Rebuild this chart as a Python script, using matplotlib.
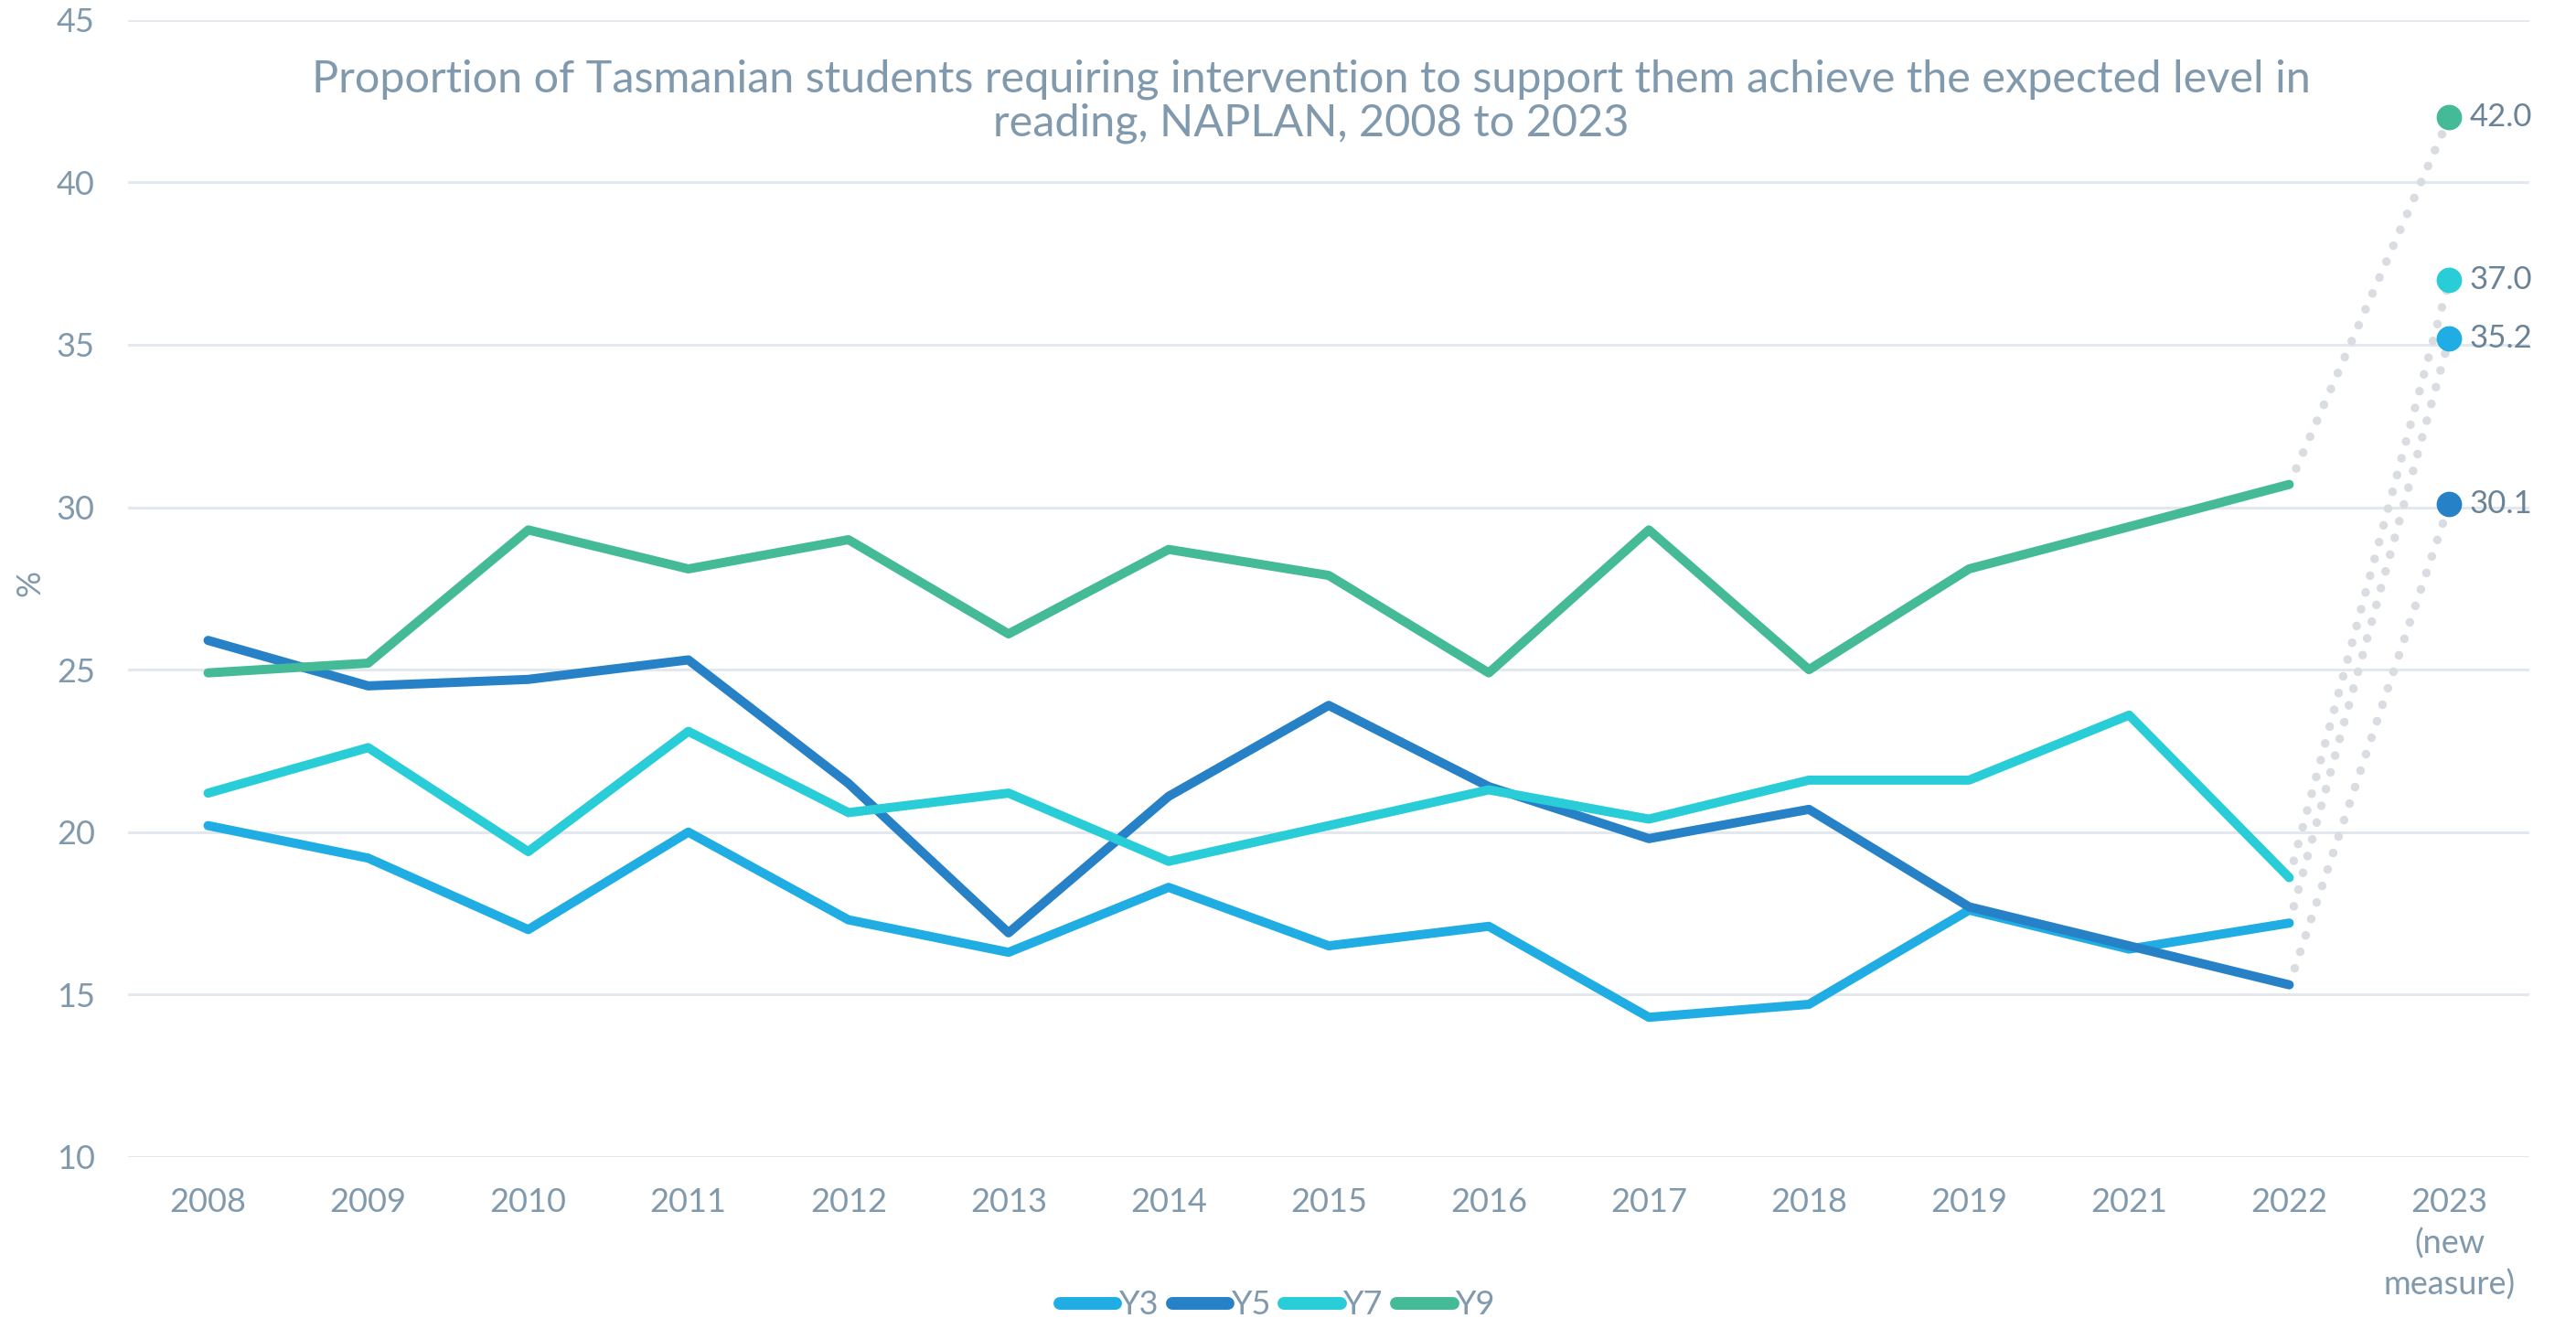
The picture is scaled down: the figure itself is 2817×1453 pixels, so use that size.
import numpy as np
import matplotlib.pyplot as plt

plt.rcParams['font.family'] = ['Lato', 'DejaVu Sans']

years = ['2008', '2009', '2010', '2011', '2012', '2013', '2014', '2015',
         '2016', '2017', '2018', '2019', '2021', '2022', '2023\n(new\nmeasure)']

# NAPLAN reading, % needing intervention (2008-2022, old measure)
y3 = [20.2, 19.2, 17.0, 20.0, 17.3, 16.3, 18.3, 16.5, 17.1, 14.3, 14.7, 17.6, 16.4, 17.2]
y5 = [25.9, 24.5, 24.7, 25.3, 21.5, 16.9, 21.1, 23.9, 21.4, 19.8, 20.7, 17.7, 16.5, 15.3]
y7 = [21.2, 22.6, 19.4, 23.1, 20.6, 21.2, 19.1, 20.2, 21.3, 20.4, 21.6, 21.6, 23.6, 18.6]
y9 = [24.9, 25.2, 29.3, 28.1, 29.0, 26.1, 28.7, 27.9, 24.9, 29.3, 25.0, 28.1, 29.4, 30.7]

# 2023 under the new measure
new_2023 = {'Y3': 35.2, 'Y5': 30.1, 'Y7': 37.0, 'Y9': 42.0}

series = {'Y3': y3, 'Y5': y5, 'Y7': y7, 'Y9': y9}
colours = {'Y3': '#1FADE4', 'Y5': '#2781C6', 'Y7': '#29CDD8', 'Y9': '#44BA96'}

text_col = '#8099AD'
label_col = '#6B8397'
grid_col = '#E3E8EE'

fig = plt.figure(figsize=(2817 / 200, 1453 / 200), dpi=200)
ax = fig.add_axes([0.0497, 0.1294, 0.9322, 0.8557])

x = np.arange(len(years))
last = len(y3) - 1

# dotted joins from 2022 to the new 2023 figure
for name, vals in series.items():
    ax.plot([x[last], x[last + 1]], [vals[-1], new_2023[name]],
            color='#D9DCE0', lw=3.4, linestyle=(0, (0.01, 2.0)),
            dash_capstyle='round', zorder=1)

for name, vals in series.items():
    ax.plot(x[:len(vals)], vals, color=colours[name], lw=3.6,
            solid_capstyle='round', solid_joinstyle='round', label=name, zorder=3)
    ax.plot(x[-1], new_2023[name], 'o', color=colours[name], ms=9, zorder=4)
    ax.annotate(f'{new_2023[name]:.1f}', (x[-1], new_2023[name]),
                xytext=(8, 0), textcoords='offset points', va='center',
                ha='left', fontsize=12.5, color=label_col)

ax.set_ylim(10, 45)
ax.set_xlim(-0.5, len(years) - 0.5)
ax.set_yticks(range(10, 46, 5))
ax.set_xticks(x)
ax.set_xticklabels(years, linespacing=1.4)
ax.tick_params(axis='both', length=0, labelsize=13, labelcolor=text_col)
ax.tick_params(axis='y', pad=13)
ax.tick_params(axis='x', pad=12)
ax.grid(axis='y', color=grid_col, lw=1.1)
ax.set_axisbelow(True)
for sp in ax.spines.values():
    sp.set_visible(False)

fig.text(0.0115, 0.561, '%', rotation=90, fontsize=13, color=text_col,
         ha='center', va='center')

fig.text(0.509, 0.924,
         'Proportion of Tasmanian students requiring intervention to support them achieve the expected level in\n'
         'reading, NAPLAN, 2008 to 2023',
         ha='center', va='center', fontsize=17.5, color=text_col, linespacing=1.1)

leg = fig.legend(loc='center', bbox_to_anchor=(0.496, 0.018), ncol=4,
                 frameon=False, fontsize=13, handlelength=1.7,
                 handletextpad=0.1, columnspacing=0.4)
for t in leg.get_texts():
    t.set_color(text_col)
for h in leg.legend_handles:
    h.set_linewidth(5)
    h.set_solid_capstyle('round')

fig.savefig('out.png', dpi=200, facecolor='white')
